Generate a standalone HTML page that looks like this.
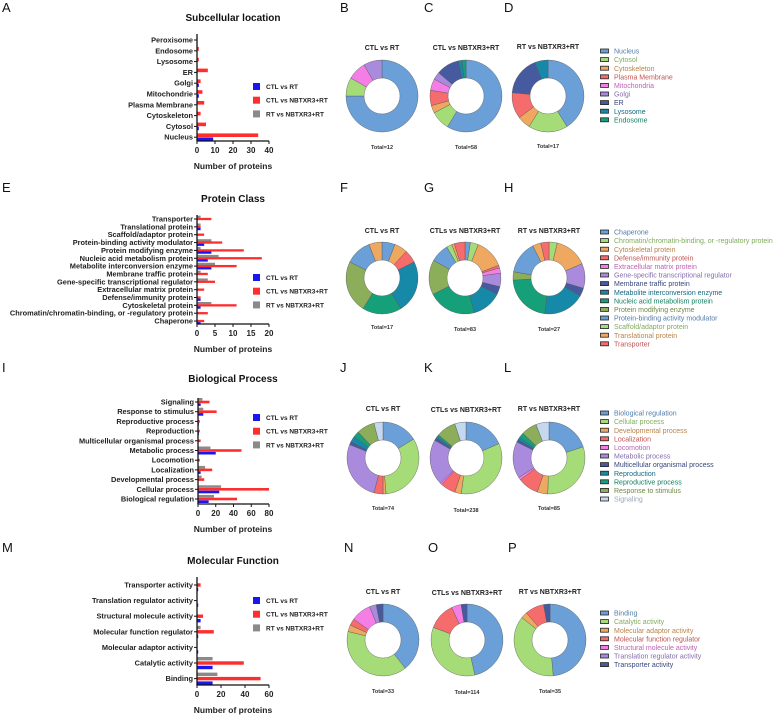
<!DOCTYPE html>
<html><head><meta charset="utf-8"><style>
html,body{margin:0;padding:0;background:#fff;}
svg{display:block;font-family:"Liberation Sans",Arial,sans-serif;}
</style></head><body>
<svg id="fig" width="784" height="718" viewBox="0 0 784 718" xmlns="http://www.w3.org/2000/svg"></svg>
<script>
// ---------- Bar chart data ----------
const subCats = ["Peroxisome","Endosome","Lysosome","ER","Golgi","Mitochondrie","Plasma Membrane","Cytoskeleton","Cytosol","Nucleus"];
const subGray = [0,0,0,0,0,0,0,0,0,0];
const subRed  = [0,1,1,6,2,3,4,2,5,34];
const subBlue = [0,0,0,0,1,1,0,0,1,9];
const subTicks = [0,10,20,30,40];

const pcCats = ["Transporter","Translational protein","Scaffold/adaptor protein","Protein-binding activity modulator","Protein modifying enzyme","Nucleic acid metabolism protein","Metabolite interconversion enzyme","Membrane traffic protein","Gene-specific transcriptional regulator","Extracellular matrix protein","Defense/immunity protein","Cytoskeletal protein","Chromatin/chromatin-binding, or -regulatory protein","Chaperone"];
const pcGray = [1,1,0,4,1,6,5,1,3,0,0,4,0,0];
const pcRed  = [4,1,2,7,13,18,11,3,5,2,1,11,3,2];
const pcBlue = [0,1,0,2,4,3,4,0,0,0,1,1,0,1];
const pcTicks = [0,5,10,15,20];

const bpCats = ["Signaling","Response to stimulus","Reproductive process","Reproduction","Multicellular organismal process","Metabolic process","Locomotion","Localization","Developmental process","Cellular process","Biological regulation"];
const bpGray = [5,6,0,0,0,14,0,8,4,26,18];
const bpRed  = [13,21,2,2,3,49,2,16,7,80,44];
const bpBlue = [3,6,1,1,0,20,0,3,0,24,12];
const bpTicks = [0,20,40,60,80];

const mfCats = ["Transporter activity","Translation regulator activity","Structural molecule activity","Molecular function regulator","Molecular adaptor activity","Catalytic activity","Binding"];
const mfGray = [0,0,0,3,0,13,17];
const mfRed  = [3,0,5,14,0,39,53];
const mfBlue = [1,1,3,1,1,13,13];
const mfTicks = [0,20,40,60];

const seriesNames = ["CTL vs RT","CTL vs NBTXR3+RT","RT vs NBTXR3+RT"];

// ---------- Donut data ----------
const subLegend = ["Nucleus","Cytosol","Cytoskeleton","Plasma Membrane","Mitochondria","Golgi","ER","Lysosome","Endosome"];
const subB = [9,1,0,0,1,1,0,0,0];
const subC = [34,5,2,4,3,2,6,1,1];
const subD = [7,3,1,2,0,0,3,1,0];

const pcLegend = ["Chaperone","Chromatin/chromatin-binding, or -regulatory protein","Cytoskeletal protein","Defense/immunity protein","Extracellular matrix protein","Gene-specific transcriptional regulator","Membrane traffic protein","Metabolite interconversion enzyme","Nucleic acid metabolism protein","Protein modifying enzyme","Protein-binding activity modulator","Scaffold/adaptor protein","Translational protein","Transporter"];
const pcF = [1,0,1,1,0,0,0,4,3,4,2,0,1,0];
const pcG = [2,3,11,1,2,5,3,11,18,13,7,2,1,4];
const pcH = [0,1,4,0,0,3,1,5,6,1,4,0,1,1];

const bpLegend = ["Biological regulation","Cellular process","Developmental process","Localization","Locomotion","Metabolic process","Multicellular organismal process","Reproduction","Reproductive process","Response to stimulus","Signaling"];
const bpJ = [12,24,1,3,0,20,1,2,2,6,3];
const bpK = [44,80,7,16,2,49,3,2,2,21,12];
const bpL = [17,26,4,8,1,14,1,1,2,6,5];

const mfLegend = ["Binding","Catalytic activity","Molecular adaptor activity","Molecular function regulator","Structural molecule activity","Translation regulator activity","Transporter activity"];
const mfN = [13,13,1,1,3,1,1];
const mfO = [53,39,0,14,5,0,3];
const mfP = [17,13,1,3,0,0,1];

// ---------- drawing ----------
const NS = "http://www.w3.org/2000/svg";
const svg = document.getElementById("fig");
const PAL = ['#6a9fd8','#a6dc78','#eea860','#f66b6b','#f47ee6','#a98adc','#465aa0','#1688a8','#16a07a','#8cae5a','#c4d8f0'];
const SER = ['#1717ee','#ff2e2e','#8a8a8a'];
function mk(tag, attrs, parent){
  const e = document.createElementNS(NS, tag);
  for (const k in attrs) e.setAttribute(k, attrs[k]);
  (parent||svg).appendChild(e);
  return e;
}
function txt(x,y,s,size,weight,anchor,fill,parent){
  const t = mk('text',{x:x,y:y,'font-size':size,'font-weight':weight,'text-anchor':anchor,fill:fill||'#111'},parent);
  t.textContent = s;
  return t;
}
function darken(hex,f){
  const n=parseInt(hex.slice(1),16);
  const r=Math.round(((n>>16)&255)*f),g=Math.round(((n>>8)&255)*f),b=Math.round((n&255)*f);
  return 'rgb('+r+','+g+','+b+')';
}

function barChart(name, title, titleY, cats, gray, red, blue, ticks, L){
  const g = mk('g',{});
  
  
  const maxV = ticks[ticks.length-1];
  const xs = v => L.x0 + (L.x1 - L.x0) * v / maxV;
  const ys = i => L.yFirst + i * L.step;
  const t = txt(233, titleY, title, 10, 'bold', 'middle', '#111', g);
  
  
  const series = [gray, red, blue];
  const cols = [SER[2], SER[1], SER[0]];
  cats.forEach((c,i)=>{
    const y = ys(i);
    series.forEach((arr,k)=>{
      const v = arr[i];
      if (v <= 0) return;
      const cy = y + L.off[k];
      const r = mk('rect',{x:L.x0, y:cy - L.bh/2, width:xs(v)-L.x0, height:L.bh, fill:cols[k]}, g);
      
      
    });
    const tk = mk('line',{x1:L.x0-3, x2:L.x0, y1:y, y2:y, stroke:'#111','stroke-width':1}, g);
    
    
    const lb = txt(L.x0-4, y+2.5, c, 7.4, 'bold', 'end', '#222', g);
    
    
  });
  const ya = mk('line',{x1:L.x0, x2:L.x0, y1:L.yTop, y2:L.xAxisY, stroke:'#111','stroke-width':1.3}, g);
  
  
  const xa = mk('line',{x1:L.x0-0.6, x2:L.x1, y1:L.xAxisY, y2:L.xAxisY, stroke:'#111','stroke-width':1.3}, g);
  
  
  ticks.forEach(v=>{
    const x = xs(v);
    const tl = mk('line',{x1:x,x2:x,y1:L.xAxisY,y2:L.xAxisY+3,stroke:'#111','stroke-width':1}, g);
    
    
    const tt = txt(x, L.xAxisY+12, String(v), 8, 'bold', 'middle', '#222', g);
    
    
  });
  const at = txt(233, L.xAxisY+28, 'Number of proteins', 8.5, 'bold', 'middle', '#222', g);
  
  
  seriesNames.forEach((s,k)=>{
    const ly = L.legY + k*13.7;
    const sw = mk('rect',{x:253, y:ly-3, width:7, height:7, fill:SER[k]}, g);
    
    
    const lt = txt(266, ly+3, s, 6.5, 'bold', 'start', '#222', g);
    
    
  });
}

function arc(cx,cy,r0,r1,a0,a1){
  const rad = a => (a-90)*Math.PI/180;
  const p = (r,a) => (cx + r*Math.cos(rad(a))).toFixed(2)+','+(cy + r*Math.sin(rad(a))).toFixed(2);
  const large = (a1-a0) > 180 ? 1 : 0;
  return 'M'+p(r1,a0)+' A'+r1+','+r1+' 0 '+large+' 1 '+p(r1,a1)+' L'+p(r0,a1)+' A'+r0+','+r0+' 0 '+large+' 0 '+p(r0,a0)+' Z';
}

function donut(name, cx, cy, title, titleY, total, totalY, vals, colors){
  const g = mk('g',{});
  
  
  const tt = txt(cx, titleY, title, 7, 'bold', 'middle', '#222', g);
  
  
  const sum = vals.reduce((a,b)=>a+b,0);
  let a = 0;
  vals.forEach((v,i)=>{
    if (v <= 0) return;
    const a1 = a + 360*v/sum;
    const d = (a1 - a >= 359.99) ? arc(cx,cy,18,36,0,359.99) : arc(cx,cy,18,36,a,a1);
    const p = mk('path',{d:d, fill:colors[i], stroke:'#555','stroke-width':0.4}, g);
    
    
    a = a1;
  });
  const tot = txt(cx, totalY, 'Total=' + total, 5.5, 'bold', 'middle', '#333', g);
  
  
}

function legend(name, y0, items, colors){
  const g = mk('g',{});
  
  
  items.forEach((s,i)=>{
    const y = y0 + i*8.6;
    const r = mk('rect',{x:600.5, y:y-2, width:8, height:4, fill:colors[i], stroke:'#222','stroke-width':0.8}, g);
    
    
    const t = txt(614, y+2.6, s, 7, 'normal', 'start', darken(colors[i],0.78), g);
    
    
  });
}

function letter(s, x, y){
  const t = txt(x, y, s, 13, 'normal', 'start', '#111');
  
  
}

// Panel letters
letter('A',2,12); letter('E',2,192); letter('I',2,372); letter('M',2,552);
letter('B',340,12); letter('C',424,12); letter('D',504,12);
letter('F',340,192); letter('G',424,192); letter('H',504,192);
letter('J',340,372); letter('K',424,372); letter('L',504,372);
letter('N',344,552); letter('O',428,552); letter('P',508,552);

barChart('subcellular-bar-chart','Subcellular location',21,subCats,subGray,subRed,subBlue,subTicks,
  {x0:197,x1:269,yFirst:40,step:10.8,bh:3.6,off:[-6,-2,2],yTop:34,xAxisY:141,legY:86});
barChart('protein-class-bar-chart','Protein Class',202,pcCats,pcGray,pcRed,pcBlue,pcTicks,
  {x0:197,x1:269,yFirst:219,step:7.85,bh:2.3,off:[-2.2,0,2.2],yTop:215,xAxisY:324,legY:277});
barChart('biological-process-bar-chart','Biological Process',382,bpCats,bpGray,bpRed,bpBlue,bpTicks,
  {x0:198,x1:269,yFirst:402,step:9.7,bh:2.6,off:[-2.7,0,2.7],yTop:398,xAxisY:504,legY:417});
barChart('molecular-function-bar-chart','Molecular Function',564,mfCats,mfGray,mfRed,mfBlue,mfTicks,
  {x0:197,x1:269,yFirst:585,step:15.6,bh:3.4,off:[-4.3,0,4.5],yTop:577,xAxisY:685,legY:600});

const pcCols = PAL.slice(0,10).concat([PAL[0],PAL[1],PAL[2],PAL[3]]);
donut('donut-B',382,96,'CTL vs RT',50,12,149,subB,PAL);
donut('donut-C',466,96,'CTL vs NBTXR3+RT',50,58,149,subC,PAL);
donut('donut-D',548,96,'RT vs NBTXR3+RT',49,17,148,subD,PAL);
donut('donut-F',382,278,'CTL vs RT',233,17,329,pcF,pcCols);
donut('donut-G',465,278,'CTLs vs NBTXR3+RT',233,83,331,pcG,pcCols);
donut('donut-H',549,278,'RT vs NBTXR3+RT',233,27,331,pcH,pcCols);
donut('donut-J',383,458,'CTL vs RT',411,74,510,bpJ,PAL);
donut('donut-K',466,458,'CTLs vs NBTXR3+RT',412,238,512,bpK,PAL);
donut('donut-L',549,458,'RT vs NBTXR3+RT',411,85,510,bpL,PAL);
donut('donut-N',383,640,'CTL vs RT',594,33,693,mfN,PAL);
donut('donut-O',467,640,'CTLs vs NBTXR3+RT',595,114,694,mfO,PAL);
donut('donut-P',550,640,'RT vs NBTXR3+RT',594,35,693,mfP,PAL);

legend('subcellular-legend',51,subLegend,PAL);
legend('protein-class-legend',232,pcLegend,pcCols);
legend('biological-process-legend',413,bpLegend,PAL);
legend('molecular-function-legend',613,mfLegend,PAL);
</script>
</body></html>
